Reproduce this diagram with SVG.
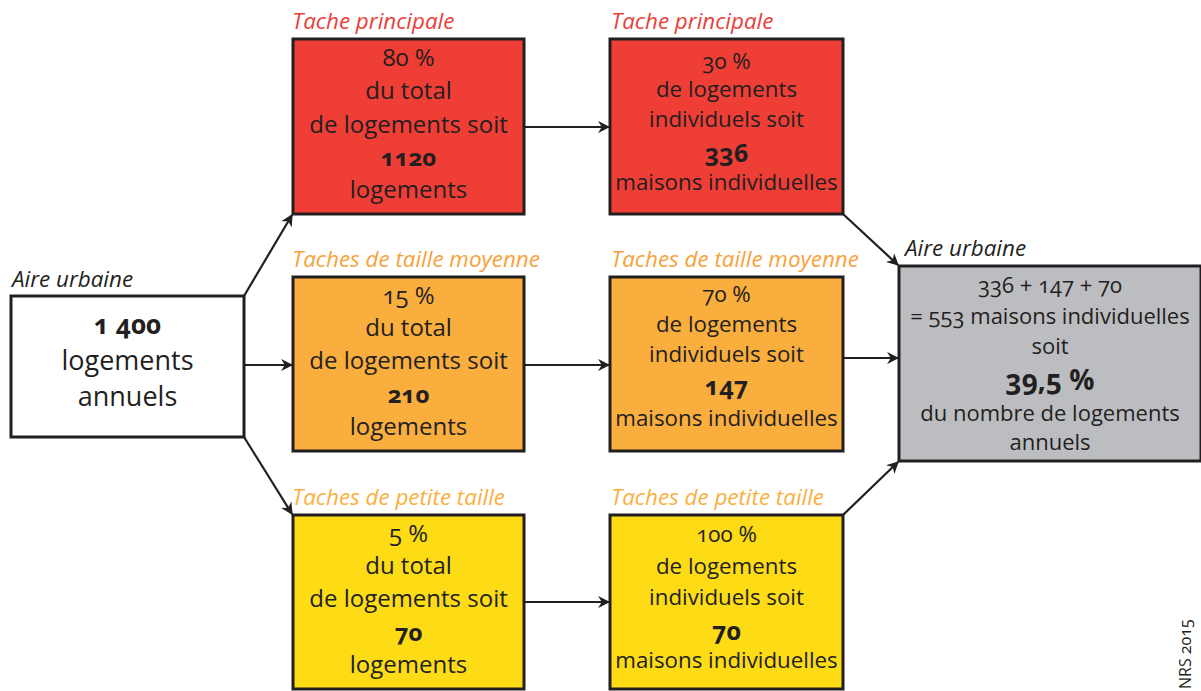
<svg xmlns="http://www.w3.org/2000/svg" width="1201" height="691" viewBox="0 0 1201 691">
<style>
.box{stroke:#231f20;stroke-width:3}
.t{font-family:"Open Sans","Noto Sans",sans-serif;fill:#231f20;text-anchor:middle;font-variant-numeric:oldstyle-nums;font-feature-settings:"onum" 1}
.b{font-weight:bold}
.lab{font-family:"Open Sans","Noto Sans",sans-serif;font-style:italic;font-size:22.4px}
.con{stroke:#231f20;stroke-width:2.2;fill:none;marker-end:url(#ah)}
</style>
<defs>
<marker id="ah" viewBox="0 0 10 10" refX="9" refY="5" markerWidth="5.5" markerHeight="5.5" orient="auto" markerUnits="strokeWidth">
<path d="M0,0 L10,5 L0,10 L3,5 z" fill="#231f20"/>
</marker>
</defs>
<rect width="1201" height="691" fill="#fff"/>
<g id="connectors">
<path class="con" d="M244,296 L292,215"/>
<path class="con" d="M244,365 L292,365"/>
<path class="con" d="M244,437 L292,514"/>
<path class="con" d="M524,127 L609,127"/>
<path class="con" d="M524,365 L609,365"/>
<path class="con" d="M524,602 L609,602"/>
<path class="con" d="M843,214 L898,265"/>
<path class="con" d="M843,358 L898,358"/>
<path class="con" d="M843,515 L898,462"/>
</g>
<g id="aire-source">
<text class="lab" x="12" y="287" fill="#231f20">Aire urbaine</text>
<rect class="box" x="11" y="296" width="233" height="141" fill="#fff"/>
<text class="t b" x="127.5" y="334" font-size="26">1 400</text>
<text class="t" x="127.5" y="370" font-size="27">logements</text>
<text class="t" x="127.5" y="406" font-size="27">annuels</text>
</g>
<g id="red1">
<text class="lab" x="292" y="29" fill="#e8403a">Tache principale</text>
<rect class="box" x="293" y="39" width="231" height="175" fill="#ef3e36"/>
<text class="t" font-size="24"><tspan x="408.5" y="66">80 %</tspan><tspan x="408.5" y="99">du total</tspan><tspan x="408.5" y="133">de logements soit</tspan><tspan x="408.5" y="198">logements</tspan></text>
<text class="t b" x="408.5" y="166" font-size="24">1120</text>
</g>
<g id="orange1">
<text class="lab" x="292" y="267" fill="#f7a23a">Taches de taille moyenne</text>
<rect class="box" x="293" y="277" width="231" height="174" fill="#f9ae3d"/>
<text class="t" font-size="24"><tspan x="408.5" y="304">15 %</tspan><tspan x="408.5" y="336">du total</tspan><tspan x="408.5" y="369">de logements soit</tspan><tspan x="408.5" y="435">logements</tspan></text>
<text class="t b" x="408.5" y="403" font-size="24">210</text>
</g>
<g id="yellow1">
<text class="lab" x="292" y="505" fill="#f9b041">Taches de petite taille</text>
<rect class="box" x="293" y="515" width="231" height="174" fill="#fddc15"/>
<text class="t" font-size="24"><tspan x="408.5" y="542">5 %</tspan><tspan x="408.5" y="574">du total</tspan><tspan x="408.5" y="607">de logements soit</tspan><tspan x="408.5" y="673">logements</tspan></text>
<text class="t b" x="408.5" y="641" font-size="24">70</text>
</g>
<g id="red2">
<text class="lab" x="611" y="29" fill="#e8403a">Tache principale</text>
<rect class="box" x="610" y="39" width="233" height="175" fill="#ef3e36"/>
<text class="t" font-size="22.3"><tspan x="726.5" y="69">30 %</tspan><tspan x="726.5" y="97">de logements</tspan><tspan x="726.5" y="127">individuels soit</tspan><tspan x="726.5" y="190">maisons individuelles</tspan></text>
<text class="t b" x="726.5" y="162" font-size="25">336</text>
</g>
<g id="orange2">
<text class="lab" x="611" y="267" fill="#f7a23a">Taches de taille moyenne</text>
<rect class="box" x="610" y="277" width="233" height="174" fill="#f9ae3d"/>
<text class="t" font-size="22.3"><tspan x="726.5" y="302">70 %</tspan><tspan x="726.5" y="332">de logements</tspan><tspan x="726.5" y="362">individuels soit</tspan><tspan x="726.5" y="426">maisons individuelles</tspan></text>
<text class="t b" x="726.5" y="395" font-size="25">147</text>
</g>
<g id="yellow2">
<text class="lab" x="611" y="505" fill="#f9b041">Taches de petite taille</text>
<rect class="box" x="610" y="515" width="233" height="174" fill="#fddc15"/>
<text class="t" font-size="22.3"><tspan x="726.5" y="542">100 %</tspan><tspan x="726.5" y="574">de logements</tspan><tspan x="726.5" y="605">individuels soit</tspan><tspan x="726.5" y="668">maisons individuelles</tspan></text>
<text class="t b" x="726.5" y="640" font-size="25">70</text>
</g>
<g id="aire-result">
<text class="lab" x="905" y="256" fill="#231f20">Aire urbaine</text>
<rect class="box" x="899" y="266" width="302" height="195" fill="#bcbdc0"/>
<text class="t" font-size="22"><tspan x="1050" y="293">336 + 147 + 70</tspan><tspan x="1050" y="324">= 553 maisons individuelles</tspan><tspan x="1050" y="354">soit</tspan><tspan x="1050" y="421">du nombre de logements</tspan><tspan x="1050" y="450">annuels</tspan></text>
<text class="t b" x="1050" y="390" font-size="28">39,5 %</text>
</g>
<text x="1191" y="689" transform="rotate(-90 1191 689)" font-family="Open Sans,sans-serif" font-size="16" fill="#231f20" style="font-variant-numeric:oldstyle-nums">NRS 2015</text>
</svg>
